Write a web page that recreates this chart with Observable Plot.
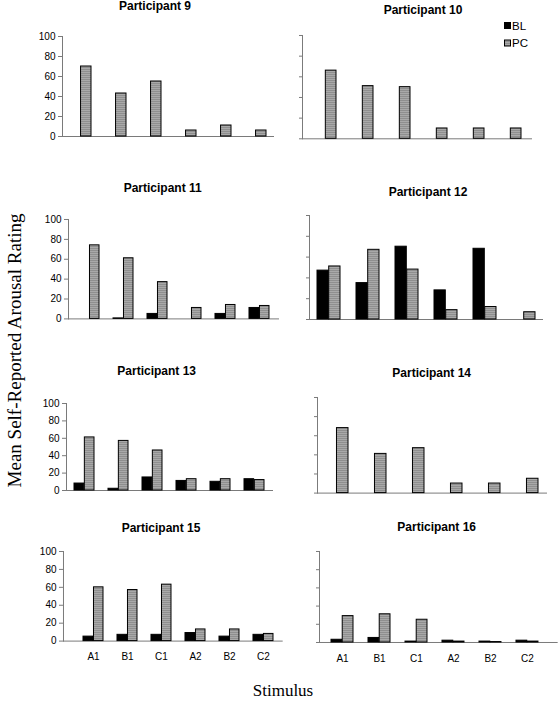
<!DOCTYPE html>
<html>
<head>
<meta charset="utf-8">
<script src="https://cdn.jsdelivr.net/npm/d3@7"></script>
<script src="https://cdn.jsdelivr.net/npm/@observablehq/plot@0.6"></script>
<style>
  html, body { margin: 0; padding: 0; background: #fff; }
  #chart { position: relative; width: 558px; height: 701px; overflow: hidden; background: #fff; }
  #chart svg.panel { position: absolute; overflow: visible; }
  #overlay { position: absolute; left: 0; top: 0; }
</style>
</head>
<body>
<div id="chart"></div>
<script>
// ---- data ----
const stimuli = ["A1", "B1", "C1", "A2", "B2", "C2"];
const yTicks = [0, 20, 40, 60, 80, 100];
const seriesNames = ["BL", "PC"];
const participants = [9, 10, 11, 12, 13, 14, 15, 16];

const bl9  = [0, 0, 0, 0, 0, 0];
const pc9  = [70, 43, 55, 6, 11, 6];
const bl10 = [0, 0, 0, 0, 0, 0];
const pc10 = [66, 51, 50, 10, 10, 10];
const bl11 = [0, 0.5, 5, 0, 5, 11];
const pc11 = [74, 61, 37, 11, 14, 13];
const bl12 = [47, 35, 70, 28, 68, 0];
const pc12 = [51, 67, 48, 9, 12, 7];
const bl13 = [8, 2, 15, 11, 10, 13];
const pc13 = [61, 57, 46, 13, 13, 12];
const bl14 = [0, 0, 0, 0, 0, 0];
const pc14 = [68, 41, 47, 10, 10, 15];
const bl15 = [5, 7, 7, 9, 5, 7];
const pc15 = [60, 57, 63, 13, 13, 8];
const bl16 = [3, 5, 1, 2, 1, 2];
const pc16 = [29, 31, 25, 1, 0.5, 1];

const blData = {9: bl9, 10: bl10, 11: bl11, 12: bl12, 13: bl13, 14: bl14, 15: bl15, 16: bl16};
const pcData = {9: pc9, 10: pc10, 11: pc11, 12: pc12, 13: pc13, 14: pc14, 15: pc15, 16: pc16};

const yTitle = "Mean Self-Reported Arousal Rating";
const xTitle = "Stimulus";

// ---- layout (pixel positions of each panel's plotting frame) ----
const layout = {
  9:  {left: 62,    right: 274,   top: 36,    bottom: 136,   insL: 0,   insR: 1,    labels: true,  xlabels: false, tx: 155,   ty: 9.5},
  10: {left: 302,   right: 532,   top: 34.7,  bottom: 138,   insL: 2.5, insR: 1,    labels: false, xlabels: false, tx: 423,   ty: 14},
  11: {left: 68,    right: 279,   top: 219.3, bottom: 318.7, insL: 1.5, insR: 0,    labels: true,  xlabels: false, tx: 162.7, ty: 191.5},
  12: {left: 309,   right: 543,   top: 215.3, bottom: 319.3, insL: 0,   insR: 0,    labels: false, xlabels: false, tx: 428,   ty: 195.5},
  13: {left: 66,    right: 273,   top: 403.3, bottom: 490.3, insL: 0,   insR: 0,    labels: true,  xlabels: false, tx: 156.7, ty: 374.5},
  14: {left: 316.7, right: 546.7, top: 396.7, bottom: 492.3, insL: 0,   insR: 0.5,  labels: false, xlabels: false, tx: 431.7, ty: 377},
  15: {left: 63.3,  right: 283,   top: 550.7, bottom: 640.3, insL: 10,  insR: 0,    labels: true,  xlabels: true,  tx: 161,   ty: 532},
  16: {left: 319.3, right: 558,   top: 550.7, bottom: 641.7, insL: 3,   insR: 11.3, labels: false, xlabels: true,  tx: 436.7, ty: 531}
};

const chart = document.getElementById("chart");
const axisGray = "#7a7a7a";
const font = "Arial, 'Liberation Sans', Helvetica, sans-serif";

// overlay for pattern defs, titles, legend and axis titles
const overlay = d3.select(chart).append("svg")
  .attr("id", "overlay")
  .attr("width", 558).attr("height", 701);
const defs = overlay.append("defs");
const pat = defs.append("pattern")
  .attr("id", "hatch")
  .attr("patternUnits", "userSpaceOnUse")
  .attr("width", 4).attr("height", 2);
pat.append("rect").attr("width", 4).attr("height", 2).attr("fill", "#8f8f8f");
pat.append("rect").attr("width", 4).attr("height", 1).attr("fill", "#a9a9a9");

for (const p of participants) {
  const L = layout[p];
  const mL = 40, mR = 2, mT = 4, mB = 26;
  const width = (L.right - L.left) + mL + mR;
  const height = (L.bottom - L.top) + mT + mB;
  const step = (L.right - L.left - L.insL - L.insR) / stimuli.length;
  const bw = step * 0.6;
  const bl = blData[p], pc = pcData[p];
  const data = stimuli.map((s, i) => ({stimulus: s, BL: bl[i], PC: pc[i]}));

  const marks = [
    Plot.ruleY([0], {stroke: axisGray, strokeWidth: 1}),
    Plot.frame({anchor: "left", stroke: axisGray}),
    Plot.axisY({
      ticks: yTicks,
      tickSize: L.labels ? 4 : 3,
      tickPadding: 3,
      tickFormat: L.labels ? (d => String(d)) : (() => ""),
      stroke: axisGray,
      fill: "black",
      fontSize: 10,
      label: null
    }),
    Plot.barY(data, {
      filter: d => d.BL > 0,
      x: "stimulus", y: "BL",
      fill: "black", stroke: "black", strokeWidth: 1,
      insetRight: bw / 2
    }),
    Plot.barY(data, {
      filter: d => d.PC > 0,
      x: "stimulus", y: "PC",
      fill: "url(#hatch)", stroke: "black", strokeWidth: 1,
      insetLeft: bw / 2
    })
  ];
  if (L.xlabels) {
    marks.push(Plot.axisX({tickSize: 0, tickPadding: 12, fill: "black", fontSize: 10, label: null}));
  }

  const svg = Plot.plot({
    width, height,
    marginLeft: mL, marginRight: mR, marginTop: mT, marginBottom: mB,
    x: {domain: stimuli, paddingInner: 0.4, paddingOuter: 0.2, insetLeft: L.insL, insetRight: L.insR, label: null, axis: L.xlabels ? undefined : null},
    y: {domain: [0, 100], label: null},
    style: {fontFamily: font, fontSize: "10px", color: "black", background: "none", overflow: "visible"},
    marks
  });
  svg.classList.add("panel");
  svg.style.left = (L.left - mL) + "px";
  svg.style.top = (L.top - mT) + "px";
  chart.insertBefore(svg, overlay.node());

  overlay.append("text")
    .attr("x", L.tx).attr("y", L.ty)
    .attr("text-anchor", "middle")
    .attr("font-family", font)
    .attr("font-weight", "bold")
    .attr("font-size", 12)
    .text("Participant " + p);
}

// legend
const legendItems = [
  {name: seriesNames[0], fill: "black", y: 22},
  {name: seriesNames[1], fill: "url(#hatch)", y: 39.5}
];
for (const it of legendItems) {
  overlay.append("rect")
    .attr("x", 504.5).attr("y", it.y + 0.5).attr("width", 6).attr("height", 6)
    .attr("fill", it.fill).attr("stroke", "black").attr("stroke-width", 1);
  overlay.append("text")
    .attr("x", 512).attr("y", it.y + 7.5)
    .attr("font-family", font).attr("font-size", 11.5)
    .text(it.name);
}

// axis titles
overlay.append("text")
  .attr("transform", "translate(21,350.5) rotate(-90)")
  .attr("text-anchor", "middle")
  .attr("font-family", "'Liberation Serif', 'Times New Roman', serif")
  .attr("font-size", 19)
  .text(yTitle);
overlay.append("text")
  .attr("x", 283).attr("y", 696)
  .attr("text-anchor", "middle")
  .attr("font-family", "'Liberation Serif', 'Times New Roman', serif")
  .attr("font-size", 17)
  .text(xTitle);
</script>
</body>
</html>
